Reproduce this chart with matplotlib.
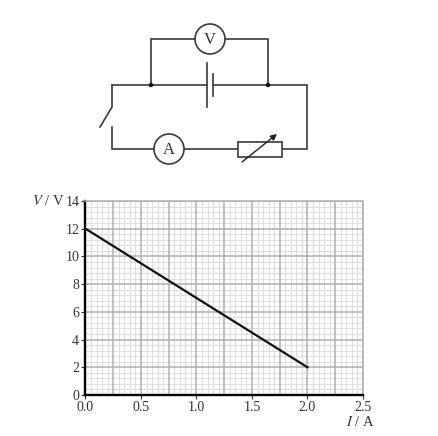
import matplotlib
matplotlib.use('Agg')
import matplotlib.pyplot as plt
from matplotlib.patches import Circle, Rectangle

plt.rcParams['font.family'] = ['Liberation Serif', 'DejaVu Serif']

# graph data
current = [0.0, 2.0]
voltage = [12.0, 2.0]
x_ticks = [0.0, 0.5, 1.0, 1.5, 2.0, 2.5]
y_ticks = [0, 2, 4, 6, 8, 10, 12, 14]

W, H = 439, 436
fig = plt.figure(figsize=(W / 100, H / 100), dpi=100)

# full figure axes in pixels for the circuit diagram
bg = fig.add_axes([0, 0, 1, 1])
bg.set_xlim(0, W)
bg.set_ylim(H, 0)
bg.axis('off')

wire = dict(color='#3a3a3a', lw=1.2, solid_capstyle='projecting', solid_joinstyle='miter')

def path(xs, ys):
    bg.plot(xs, ys, **wire)

path([195, 151, 151], [39, 39, 85])
path([225, 268, 268], [39, 39, 85])
path([112, 207], [85, 85])
path([213, 307, 307, 282], [85, 85, 149, 149])
path([112, 112, 100], [85, 107, 127])
path([112, 112, 154], [127, 149, 149])
path([184, 238], [149, 149])
path([207, 207], [63, 107])
path([213, 213], [74, 96])

for cx, cy, name in [(210, 39, 'V'), (169, 149, 'A')]:
    bg.add_patch(Circle((cx, cy), 15, fc='white', ec='#3a3a3a', lw=1.2, zorder=3))
    bg.text(cx, cy + 0.5, name, ha='center', va='center', fontsize=12, color='#333333', zorder=4)

bg.add_patch(Rectangle((238, 142), 44, 15, fc='white', ec='#3a3a3a', lw=1.2, zorder=3))
bg.annotate('', xy=(277, 134), xytext=(242, 162), zorder=5,
            arrowprops=dict(arrowstyle='-|>', color='#222222', lw=1.0, mutation_scale=9,
                            shrinkA=0, shrinkB=0))
for cx in (151, 268):
    bg.add_patch(Circle((cx, 85), 2.2, fc='#111111', ec='none', zorder=4))

# graph
left, right, top, bottom = 85.5, 363, 201, 395
ax = fig.add_axes([left / W, 1 - bottom / H, (right - left) / W, (bottom - top) / H])
ax.patch.set_alpha(0)
ax.set_xlim(0, 2.5)
ax.set_ylim(0, 14)

for i in range(51):
    if i % 5:
        ax.axvline(i * 0.05, color='#dedede', lw=0.8, zorder=1)
for i in range(36):
    if i % 5:
        ax.axhline(i * 0.4, color='#dedede', lw=0.8, zorder=1)
for i in range(11):
    ax.axvline(i * 0.25, color='#b0b0b0', lw=1.1, zorder=2)
for y in y_ticks:
    ax.axhline(y, color='#b0b0b0', lw=1.1, zorder=2)

ax.plot(current, voltage, color='#111111', lw=1.6, zorder=4)

ax.set_xticks(x_ticks)
ax.set_xticklabels([f'{v:.1f}' for v in x_ticks])
ax.set_yticks(y_ticks)
ax.tick_params(length=3, width=0.8, labelsize=10, colors='#333333')
ax.tick_params(axis='x', pad=1.5)
ax.tick_params(axis='y', pad=1.5)
for s in ('top', 'right'):
    ax.spines[s].set_color('#b0b0b0')
    ax.spines[s].set_linewidth(1.1)
for s in ('left', 'bottom'):
    ax.spines[s].set_color('black')
    ax.spines[s].set_linewidth(1.7)

bg.text(48, 201, '$\\mathit{V}$ / V', ha='center', va='center', fontsize=10.5,
        math_fontfamily='stix', color='#333333')
bg.text(360, 422, '$\\mathit{I}$ / A', ha='center', va='center', fontsize=10.5,
        math_fontfamily='stix', color='#333333')

fig.savefig('out.png', dpi=100)
